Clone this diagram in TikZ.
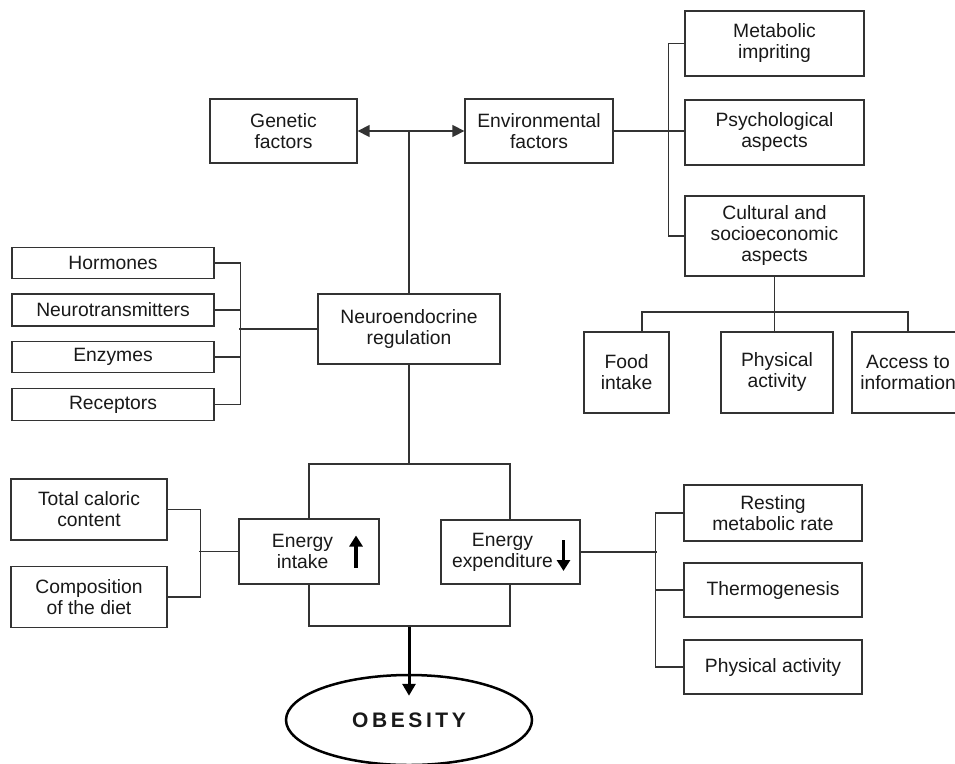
\documentclass[tikz,border=0pt]{standalone}
\usepackage{fontspec}
\setmainfont{Liberation Sans}
\usetikzlibrary{arrows.meta,calc,shapes.geometric}
\definecolor{ink}{HTML}{333333}
\begin{document}
\begin{tikzpicture}[x=1pt,y=-1pt,
  box/.style={draw=ink, line width=1.3pt, fill=white, align=center, inner sep=0pt,
    text=black!90, font=\fontsize{19.3}{21}\selectfont},
  ln/.style={draw=ink, line width=1.4pt},
  bigarrow/.style={draw=black, line width=3.4pt, -{Triangle[length=11pt,width=13pt]}},
]
\useasboundingbox (0,0) rectangle (955,763);
\clip (0,0) rectangle (955,763);

% top row
\node[box, minimum width=147pt, minimum height=64pt] (gen) at (283.5,131) {Genetic\\factors};
\node[box, minimum width=148pt, minimum height=64pt] (env) at (539,131) {Environmental\\factors};
\node[box, minimum width=179pt, minimum height=65pt] (meta) at (774.5,43.5) {Metabolic\\impriting};
\node[box, minimum width=179pt, minimum height=65pt] (psych) at (774.5,132.5) {Psychological\\aspects};
\node[box, minimum width=179pt, minimum height=80pt] (cult) at (774.5,236) {Cultural and\\socioeconomic\\aspects};
\node[box, minimum width=85pt, minimum height=81pt] (food) at (626.5,372.5) {Food\\intake};
\node[box, minimum width=112pt, minimum height=81pt] (pact) at (777,372.5) {Physical\\activity};
\node[box, minimum width=112pt, minimum height=81pt] (acc) at (908,372.5) {Access to\\information};

% left column
\node[box, minimum width=202pt, minimum height=31pt] (horm) at (113,263) {Hormones};
\node[box, minimum width=202pt, minimum height=32pt] (neurot) at (113,310) {Neurotransmitters};
\node[box, minimum width=202pt, minimum height=31pt] (enz) at (113,357) {Enzymes};
\node[box, minimum width=202pt, minimum height=32pt] (rec) at (113,404.5) {Receptors};
\node[box, minimum width=182pt, minimum height=70pt] (neuro) at (409,329) {Neuroendocrine\\regulation};

% energy frame
\node[draw=ink, line width=1.4pt, minimum width=201pt, minimum height=162pt, inner sep=0pt] (frame) at (409.5,545) {};
\node[box, minimum width=156pt, minimum height=61pt] (total) at (89,509.5) {Total caloric\\content};
\node[box, minimum width=156pt, minimum height=61pt] (comp) at (89,597) {Composition\\of the diet};
\node[box, minimum width=140pt, minimum height=65pt] (intake) at (309,551.5) {Energy\rule{13pt}{0pt}\\intake\rule{13pt}{0pt}};
\node[box, minimum width=139pt, minimum height=64pt] (exp) at (510.5,552) {Energy\rule{16pt}{0pt}\\expenditure\rule{16pt}{0pt}};
\node[box, minimum width=178pt, minimum height=56pt] (rest) at (773,513) {Resting\\metabolic rate};
\node[box, minimum width=178pt, minimum height=54pt] (thermo) at (773,590) {Thermogenesis};
\node[box, minimum width=178pt, minimum height=54pt] (pa) at (773,667) {Physical activity};

\node[ellipse, draw=black, line width=2.5pt, minimum width=246pt, minimum height=90pt, inner sep=0pt,
  font=\fontsize{21}{24}\selectfont\bfseries, text=black!90] (obes) at (409,720)
  {O\kern3.6pt B\kern3.6pt E\kern3.6pt S\kern3.6pt I\kern3.6pt T\kern3.6pt Y};

% connectors top
\draw[ln, {Triangle[length=12pt,width=12pt]}-{Triangle[length=12pt,width=12pt]}] (gen.east) -- (env.west);
\draw[ln] (neuro.north) -- (neuro.north |- gen.east);
\draw[ln] (env.east) -- (env.east -| psych.west);
\draw[ln] (meta.west) -- ++(-16,0) |- (cult.west);
\coordinate (barL) at (642,312);
\coordinate (barR) at (908,312);
\draw[ln] (cult.south) -- (cult.south |- pact.north);
\draw[ln] (food.north -| barL) -- (barL) -- (barR) -- (acc.north -| barR);

% connectors left
\draw[ln] (horm.east) -- ++(26,0) |- (rec.east);
\draw[ln] (neurot.east) -- ++(26,0);
\draw[ln] (enz.east) -- ++(26,0);
\draw[ln] (neuro.west) -- ++(-78,0);
\draw[ln] (neuro.south) -- (neuro.south |- frame.north);

% connectors bottom
\draw[ln] (total.east) -- ++(33,0) |- (comp.east);
\draw[ln] (intake.west) -- ++(-39,0);
\draw[ln] (exp.east) -- ++(76,0);
\draw[ln] (rest.west) -- ++(-28,0) |- (pa.west);
\draw[ln] (thermo.west) -- ++(-28,0);

% arrows
\draw[bigarrow] ($(intake.center)+(47,16)$) -- ++(0,-32);
\draw[bigarrow] ($(exp.center)+(53,-12)$) -- ++(0,31);
\draw[draw=black, line width=3pt, -{Triangle[length=12pt,width=13pt]}] (frame.south -| neuro.south) -- ($(obes.north)+(0,22)$);
\end{tikzpicture}
\end{document}
